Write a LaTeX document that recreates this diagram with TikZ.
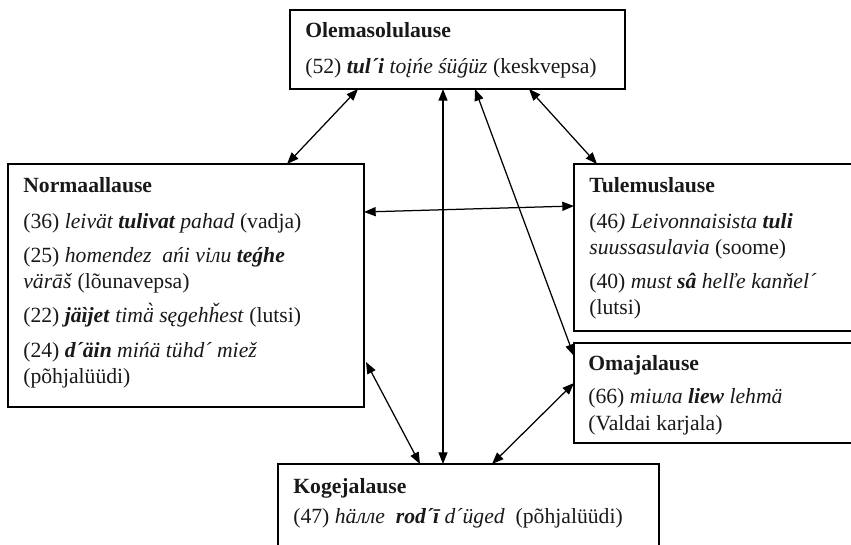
\documentclass[tikz,border=0pt]{standalone}
\usepackage{fontspec}
\setmainfont{Liberation Serif}
\usetikzlibrary{arrows.meta,calc}
\begin{document}
\begin{tikzpicture}[x=0.6pt,y=-0.6pt,
  box/.style={draw=black, line width=0.9pt, anchor=north west, inner sep=0pt, outer sep=0pt},
  lbl/.style={anchor=base west, inner sep=0pt, text=black!90, font=\fontsize{13}{15}\selectfont},
  arr/.style={{Triangle[length=7pt,width=5.4pt]}-{Triangle[length=7pt,width=5.4pt]}, line width=0.75pt}]
\useasboundingbox (0,0) rectangle (851,545);
\fill[white] (0,0) rectangle (851,545);
% boxes
\node[box, minimum width=335*0.6pt, minimum height=79*0.6pt] (ole) at (290,10) {};
\node[box, minimum width=356*0.6pt, minimum height=243*0.6pt] (norm) at (8,164) {};
\node[box, minimum width=282*0.6pt, minimum height=167*0.6pt] (tul) at (574,164) {};
\node[box, minimum width=282*0.6pt, minimum height=100*0.6pt] (oma) at (574,343) {};
\node[box, minimum width=381*0.6pt, minimum height=100*0.6pt] (koge) at (278,464) {};
% texts
\node[lbl] (ole1) at (305,38) {\textbf{Olemasolulause}};
\node[lbl] (ole2) at (305,74) {(52) \textbf{\textit{tul´i}} \textit{toįńe śüǵüz} (keskvepsa)};
\node[lbl] (norm1) at (23,193) {\textbf{Normaallause}};
\node[lbl] (norm2) at (23,229) {(36) \textit{leivät \textbf{tulivat} pahad} (vadja)};
\node[lbl] (norm3) at (23,263) {(25) \textit{homendez\ \ ańi viлu \textbf{teǵhe}}};
\node[lbl] (norm4) at (23,289) {\textit{värāš} (lõunavepsa)};
\node[lbl] (norm5) at (23,323) {(22) \textbf{\textit{jäìjet}} \textit{timä̀ sęgehȟest} (lutsi)};
\node[lbl] (norm6) at (23,357) {(24) \textbf{\textit{d´äin}} \textit{mińä tühd´ miež}};
\node[lbl] (norm7) at (23,383) {(põhjalüüdi)};
\node[lbl] (tul1) at (589,193) {\textbf{Tulemuslause}};
\node[lbl] (tul2) at (589,229) {(46\textit{) Leivonnaisista \textbf{tuli}}};
\node[lbl] (tul3) at (589,255) {\textit{suussasulavia} (soome)};
\node[lbl] (tul4) at (589,289) {(40) \textit{must \textbf{sâ} helľe kanňel´}};
\node[lbl] (tul5) at (589,315) {(lutsi)};
\node[lbl] (oma1) at (588,370) {\textbf{Omajalause}};
\node[lbl] (oma2) at (588,404) {(66) \textit{miuлa \textbf{liew} lehmä}};
\node[lbl] (oma3) at (588,430) {(Valdai karjala)};
\node[lbl] (koge1) at (293,494) {\textbf{Kogejalause}};
\node[lbl] (koge2) at (293,523) {(47) \textit{häллe\ \ \textbf{rod´ī} d´üged}\ \ (põhjalüüdi)};
% connectors
\draw[arr] ($(ole.south west)+(68,0)$) -- ($(norm.north west)+(279,0)$);
\draw[arr] ($(ole.south west)+(239,0)$) -- ($(tul.north west)+(23,0)$);
\draw[arr] ($(ole.south west)+(153,0)$) -- ($(koge.north west)+(165,0)$);
\draw[arr] ($(ole.south west)+(185,0)$) -- ($(oma.north west)+(0,13)$);
\draw[arr] ($(norm.north east)+(0,48)$) -- ($(tul.north west)+(0,42)$);
\draw[arr] ($(norm.north east)+(2,198)$) -- ($(koge.north west)+(142,0)$);
\draw[arr] ($(koge.north west)+(214,0)$) -- ($(oma.north west)+(0,40)$);
\end{tikzpicture}
\end{document}
